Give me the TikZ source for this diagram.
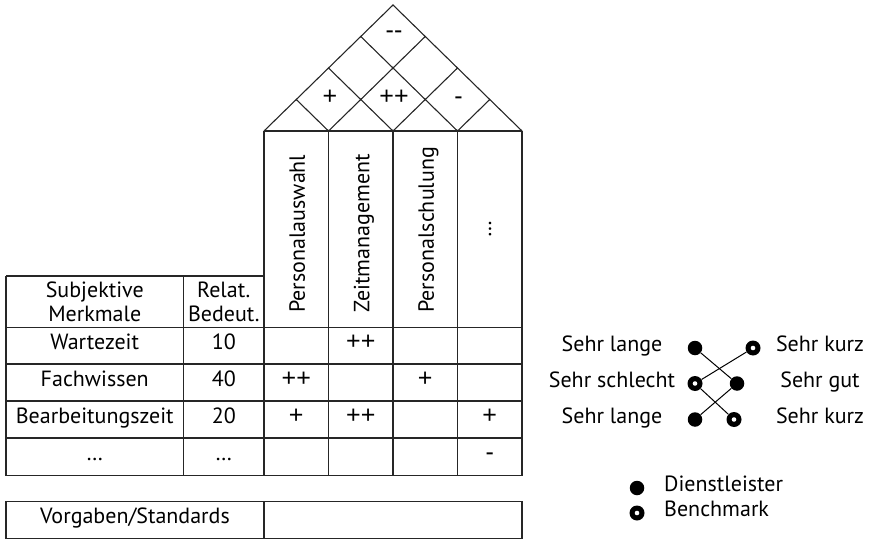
\documentclass[tikz,border=0pt]{standalone}
\usepackage{fontspec}
\setmainfont{PT Sans}
\newfontfamily\symfont{Liberation Sans}
\begin{document}
\begin{tikzpicture}[x=1pt,y=-1pt,
  grid/.style={draw=black!85, line width=1.1pt},
  txt/.style={inner sep=0pt, font=\fontsize{22}{23.5}\selectfont, align=center, text=black},
  cell/.style={txt, text height=0.7em, text depth=0pt},
  sym/.style={inner sep=0pt, font=\symfont\fontsize{25}{27}\selectfont, text=black, text height=0.7em, text depth=0pt},
  vtxt/.style={txt, rotate=90, anchor=base west},
  full/.style={circle, fill=black, inner sep=0pt, minimum size=14.5pt},
  hollow/.style={circle, fill=black, inner sep=0pt, minimum size=15pt,
    path picture={\fill[white] (path picture bounding box.center) circle[radius=2.3pt];}},
  link/.style={line width=1pt}]
\useasboundingbox (0,0) rectangle (869,540);

% ---- roof ----
\coordinate (L) at (264,131);
\coordinate (R) at (522,131);
\coordinate (A) at (393,5);
\coordinate (b1) at (328.5,131);
\coordinate (b2) at (393,131);
\coordinate (b3) at (457.5,131);
\draw[grid] (L) -- (A) -- (R);
\draw[grid] (296.25,99.5) -- (b1) -- (425.25,36.5);
\draw[grid] (328.5,68) -- (b2) -- (457.5,68);
\draw[grid] (360.75,36.5) -- (b3) -- (489.75,99.5);
\node[sym] (r12) at (330,101) {+};
\node[sym] (r23) at (394,101) {++};
\node[sym] (r34) at (458.5,101) {-};
\node[sym] (r24) at (394,35) {{-}{-}};

% ---- grid of the matrix ----
\draw[grid] (264,131) -- (522,131);
\draw[grid] (6,276) -- (264,276);
\foreach \y in {327.5,364,401,438,475.5} \draw[grid] (6,\y) -- (522,\y);
\foreach \x in {6,183.5} \draw[grid] (\x,276) -- (\x,475.5);
\foreach \x in {264,328.5,393,457.5,522} \draw[grid] (\x,131) -- (\x,475.5);

% ---- headers ----
\node[txt] (h1) at (94.75,302) {Subjektive\\Merkmale};
\node[txt] (h2) at (223.75,302) {Relat.\\Bedeut.};
\node[vtxt] (v1) at (304.75,313) {Personalauswahl};
\node[vtxt] (v2) at (369.25,313) {Zeitmanagement};
\node[vtxt] (v3) at (433.75,313) {Personalschulung};
\node[txt, rotate=90] (v4) at (490,229) {\dots};

% ---- rows ----
\node[cell] (m1) at (94.75,345.75) {Wartezeit};
\node[cell] (m2) at (94.75,382.5) {Fachwissen};
\node[cell] (m3) at (94.75,419.5) {Bearbeitungszeit};
\node[cell] (m4) at (94.75,456.75) {\dots};
\node[cell] (w1) at (223.75,345.75) {10};
\node[cell] (w2) at (223.75,382.5) {40};
\node[cell] (w3) at (223.75,419.5) {20};
\node[cell] (w4) at (223.75,456.75) {\dots};
\node[sym] (c12) at (360.75,346) {++};
\node[sym] (c21) at (296.25,383) {++};
\node[sym] (c23) at (425.25,383) {+};
\node[sym] (c31) at (296.25,420) {+};
\node[sym] (c32) at (360.75,420) {++};
\node[sym] (c34) at (489.75,420) {+};
\node[sym] (c44) at (489.75,457) {-};

% ---- standards ----
\draw[grid] (6,501.5) rectangle (522,538.5);
\draw[grid] (264,501.5) -- (264,538.5);
\node[cell] (std) at (135,520) {Vorgaben/Standards};

% ---- profile ----
\node[cell] (l1) at (612,348) {Sehr lange};
\node[cell] (l2) at (612,383.5) {Sehr schlecht};
\node[cell] (l3) at (612,419.5) {Sehr lange};
\node[cell] (k1) at (820,348) {Sehr kurz};
\node[cell] (k2) at (820,383.5) {Sehr gut};
\node[cell] (k3) at (820,419.5) {Sehr kurz};

\node[full] (d1) at (695,348) {};
\node[full] (d2) at (737,383.5) {};
\node[full] (d3) at (695,419.5) {};
\node[hollow] (e1) at (753,348) {};
\node[hollow] (e2) at (695,383.5) {};
\node[hollow] (e3) at (734,419.5) {};
\draw[link] (d1) -- (d2) -- (d3);
\draw[link] (e1) -- (e2) -- (e3);

% ---- legend ----
\node[full] (ld) at (637,488) {};
\node[hollow] (lb) at (637,513) {};
\node[cell, anchor=west] (tld) at (664,488) {Dienstleister};
\node[cell, anchor=west] (tlb) at (664,513) {Benchmark};
\end{tikzpicture}
\end{document}
